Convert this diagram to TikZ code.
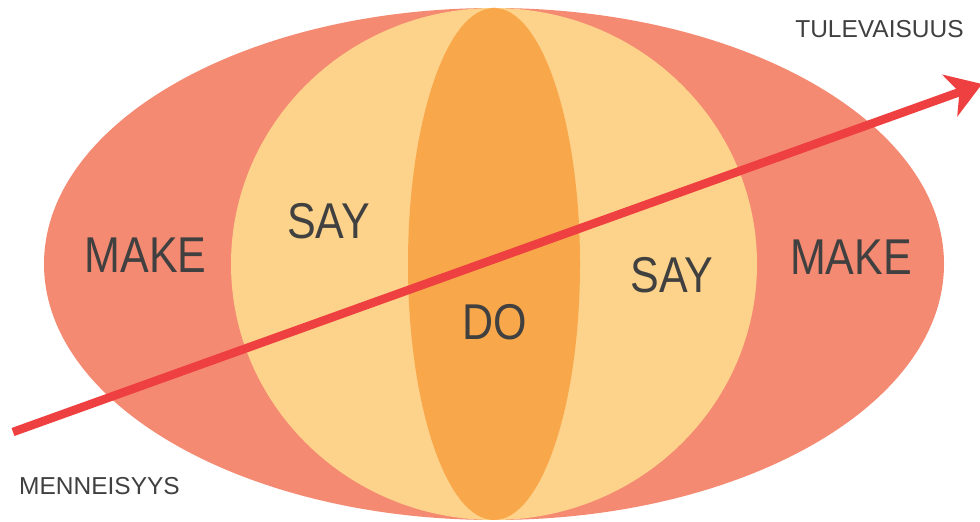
\documentclass[tikz,border=0pt]{standalone}
\usepackage{fontspec}
\setmainfont{Liberation Sans}
\usepackage{graphicx}
\usepackage{tikz}
\usetikzlibrary{arrows.meta, positioning}

\definecolor{makered}{HTML}{F58A72}
\definecolor{sayyellow}{HTML}{FDD28A}
\definecolor{doorange}{HTML}{F8A84B}
\definecolor{timered}{HTML}{EE4040}
\definecolor{txtgray}{HTML}{404040}

\begin{document}
\begin{tikzpicture}[
  x=1pt, y=1pt,
  layer/.style={draw=none},
  big/.style={font=\fontsize{43}{43}\selectfont, text=txtgray, inner sep=0pt},
  small/.style={font=\fontsize{24.5}{24.5}\selectfont, text=txtgray, inner sep=0pt},
  timeline/.style={line width=8.5pt, draw=timered, -{Stealth[length=34pt, width=44pt, inset=10pt]}},
]
  \useasboundingbox (0,0) rectangle (980,522);

  % Kerrokset
  \coordinate (mid) at (494,258);
  \fill[layer, makered] (mid) ellipse [x radius=450, y radius=256];
  \fill[layer, sayyellow] (mid) ellipse [x radius=263, y radius=256];
  \fill[layer, doorange] (mid) ellipse [x radius=86, y radius=256];

  % Tekstit
  \node[big] (makeL) at (145.5,266.5) {\scalebox{1}[1.17]{MAKE}};
  \node[big] (sayL) at (328.5,300.5) {\scalebox{1}[1.17]{SAY}};
  \node[big] (do) at (494.5,200) {\scalebox{1}[1.17]{DO}};
  \node[big] (sayR) at (672,247) {\scalebox{1}[1.17]{SAY}};
  \node[big] (makeR) at (851,265) {\scalebox{1}[1.17]{MAKE}};

  % Aikajana
  \coordinate (past) at (13,90);
  \coordinate (future) at (982,438);
  \draw[timeline] (past) -- (future);

  \node[small] (tulevaisuus) at (879.5,493) {TULEVAISUUS};
  \node[small] (menneisyys) at (99.5,35.5) {MENNEISYYS};
\end{tikzpicture}
\end{document}
